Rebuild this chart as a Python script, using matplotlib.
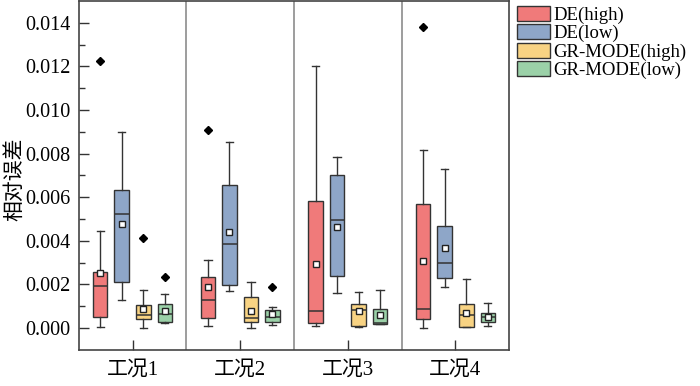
import numpy as np
import matplotlib
matplotlib.use("Agg")
import matplotlib.pyplot as plt
from matplotlib.patches import Patch

plt.rcParams["font.family"] = ["Liberation Serif", "Noto Sans CJK SC"]

# --- data (units of 0.001) ---
groups = ["工况1", "工况2", "工况3", "工况4"]
series = ["DE(high)", "DE(low)", "GR-MODE(high)", "GR-MODE(low)"]
colors = ["#F07A7A", "#8EA6C8", "#F8D383", "#9BD1A8"]

# rows: group, cols: series
whislo = [[0.06, 1.29, 0.02, 0.22],
          [0.09, 1.68, 0.02, 0.12],
          [0.11, 1.61, 0.03, 0.20],
          [0.02, 1.87, 0.03, 0.11]]
q1 = [[0.52, 2.13, 0.40, 0.26],
      [0.47, 1.96, 0.26, 0.26],
      [0.24, 2.40, 0.09, 0.17],
      [0.40, 2.30, 0.05, 0.28]]
med = [[1.91, 5.22, 0.60, 0.63],
       [1.27, 3.84, 0.47, 0.52],
       [0.79, 4.94, 0.83, 0.21],
       [0.89, 2.97, 0.60, 0.49]]
q3 = [[2.59, 6.32, 1.04, 1.09],
      [2.34, 6.56, 1.44, 0.83],
      [5.83, 7.01, 1.12, 0.87],
      [5.68, 4.68, 1.12, 0.69]]
whishi = [[4.44, 9.01, 1.73, 1.58],
          [3.11, 8.52, 2.11, 0.96],
          [12.0, 7.83, 1.65, 1.73],
          [8.16, 7.31, 2.25, 1.16]]
means = [[2.52, 4.76, 0.89, 0.79],
         [1.88, 4.39, 0.79, 0.64],
         [2.94, 4.65, 0.77, 0.58],
         [3.08, 3.66, 0.70, 0.52]]
fliers = [[[12.26], [], [4.12], [2.34]],
          [[9.07], [], [], [1.87]],
          [[], [], [], []],
          [[13.80], [], [], []]]

offsets = [-0.3, -0.1, 0.1, 0.3]
box_w = 0.135

fig = plt.figure(figsize=(7, 3.86), dpi=100)
ax = fig.add_axes([0.1124, 0.0933, 0.6152, 0.9045])

for j, (name, col) in enumerate(zip(series, colors)):
    stats = []
    for i in range(len(groups)):
        stats.append(dict(whislo=whislo[i][j] * 1e-3, q1=q1[i][j] * 1e-3,
                          med=med[i][j] * 1e-3, q3=q3[i][j] * 1e-3,
                          whishi=whishi[i][j] * 1e-3, mean=means[i][j] * 1e-3,
                          fliers=np.array(fliers[i][j]) * 1e-3))
    pos = np.arange(1, len(groups) + 1) + offsets[j]
    ax.bxp(stats, positions=pos, widths=box_w, patch_artist=True,
           showmeans=True, manage_ticks=False,
           boxprops=dict(facecolor=col, edgecolor="#333333", linewidth=1.0),
           medianprops=dict(color="#333333", linewidth=1.1),
           whiskerprops=dict(color="#333333", linewidth=1.0),
           capprops=dict(color="#333333", linewidth=1.0),
           meanprops=dict(marker="s", markerfacecolor="white",
                          markeredgecolor="#222222", markersize=4,
                          markeredgewidth=1.0),
           flierprops=dict(marker="D", markerfacecolor="black",
                           markeredgecolor="black", markersize=4.5))

for x in [1.5, 2.5, 3.5]:
    ax.axvline(x, color="#8c8c8c", lw=1.2, zorder=0)

ax.set_xlim(0.5, 4.5)
ax.set_ylim(-0.00101, 0.01501)
ax.set_xticks(range(1, 5))
ax.set_xticklabels(groups)
ax.set_yticks(np.arange(0, 0.0141, 0.002))
ax.set_yticklabels([f"{v:.3f}" for v in np.arange(0, 0.0141, 0.002)])
ax.set_yticks(np.arange(0.001, 0.0141, 0.002), minor=True)
ax.tick_params(axis="both", which="major", direction="in", length=7,
               width=1.0, color="#333333")
ax.tick_params(axis="y", which="minor", direction="in", length=4,
               width=1.0, color="#333333")
ax.tick_params(axis="x", pad=8, labelsize=15)
ax.tick_params(axis="y", pad=6, labelsize=14.5)
ax.set_ylabel("相对误差", fontsize=15)
ax.yaxis.set_label_coords(-0.125, 0.49)
for s in ax.spines.values():
    s.set_color("#444444")
    s.set_linewidth(1.2)

handles = [Patch(facecolor=c, edgecolor="#333333", linewidth=1.0) for c in colors]
fig.legend(handles, series, loc="upper left", bbox_to_anchor=(0.738, 0.985),
           frameon=False, fontsize=13.5, handlelength=1.8, handleheight=0.85,
           handletextpad=0.15, labelspacing=0.02, borderpad=0, borderaxespad=0)

fig.savefig("out.png", dpi=100)
